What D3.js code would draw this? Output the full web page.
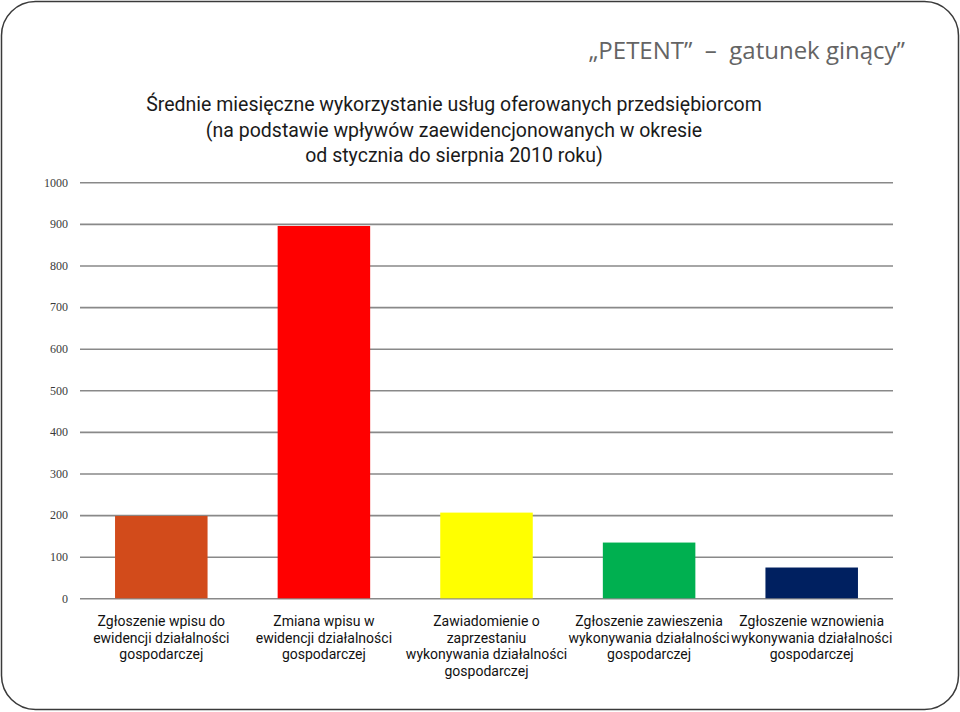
<!DOCTYPE html>
<html><head><meta charset="utf-8">
<script src="https://cdn.jsdelivr.net/npm/d3@7"></script>
<style>body{margin:0;background:#fff}</style>
</head><body>
<svg id="chart" width="960" height="712"></svg>
<script>
// ---- data ----
const categories = [
  ["Zgłoszenie wpisu do", "ewidencji działalności", "gospodarczej"],
  ["Zmiana wpisu w", "ewidencji działalności", "gospodarczej"],
  ["Zawiadomienie o", "zaprzestaniu", "wykonywania działalności", "gospodarczej"],
  ["Zgłoszenie zawieszenia", "wykonywania działalności", "gospodarczej"],
  ["Zgłoszenie wznowienia", "wykonywania działalności", "gospodarczej"]
];
const values = [198, 895, 206, 134, 74];
const barColors = ["#D24B1B", "#FF0000", "#FFFF00", "#00B050", "#002060"];
const yTicks = [0, 100, 200, 300, 400, 500, 600, 700, 800, 900, 1000];
const headerText = "„PETENT”  –  gatunek ginący”";
const titleLines = [
  "Średnie miesięczne wykorzystanie usług oferowanych przedsiębiorcom",
  "(na podstawie wpływów zaewidencjonowanych w okresie",
  "od stycznia do sierpnia 2010 roku)"
];

// ---- layout ----
const svg = d3.select("#chart");
const plot = {left: 80, right: 893, top: 182.3, bottom: 598.3};
const keys = categories.map(c => c.join(" "));

svg.append("rect")
  .attr("x", 1.5).attr("y", 1.5).attr("width", 957).attr("height", 708)
  .attr("rx", 34).attr("ry", 34)
  .attr("fill", "#fff").attr("stroke", "#3a3a3a").attr("stroke-width", 1.5);

const x = d3.scaleBand().domain(keys).range([plot.left, plot.right])
  .paddingInner(0.431).paddingOuter(0.2155);
const y = d3.scaleLinear().domain([0, 1000]).range([plot.bottom, plot.top]);

const yAxis = svg.append("g")
  .attr("transform", `translate(${plot.left},0)`)
  .call(d3.axisLeft(y).tickValues(yTicks).tickFormat(d3.format("d"))
    .tickSize(-(plot.right - plot.left)).tickPadding(12));
yAxis.attr("font-family", null).attr("font-size", null);
yAxis.select(".domain").remove();
yAxis.selectAll(".tick line").attr("stroke", "#898989").attr("stroke-width", 1.6);
yAxis.selectAll(".tick text")
  .style("font-family", "'Liberation Serif', 'DejaVu Serif', serif")
  .style("font-size", "12px").attr("fill", "#3a3a3a");

svg.append("g").selectAll("rect").data(values).join("rect")
  .attr("x", (d, i) => x(keys[i]))
  .attr("width", x.bandwidth())
  .attr("y", d => y(d))
  .attr("height", d => y(0) - y(d))
  .attr("fill", (d, i) => barColors[i]);

// category labels
const lab = svg.append("g")
  .style("font-family", "Roboto, 'Liberation Sans', sans-serif")
  .style("font-size", "14px").attr("fill", "#111").attr("text-anchor", "middle");
categories.forEach((lines, i) => {
  const cx = x(keys[i]) + x.bandwidth() / 2;
  const t = lab.append("text").attr("x", cx).attr("y", 626);
  lines.forEach((l, j) => t.append("tspan").attr("x", cx)
    .attr("dy", j === 0 ? 0 : 16.5).text(l));
});

// header
svg.append("text")
  .attr("x", 905).attr("y", 59).attr("text-anchor", "end")
  .style("font-family", "'Open Sans', sans-serif").style("font-size", "24px")
  .style("white-space", "pre")
  .attr("fill", "#646464").text(headerText);

// title
const tt = svg.append("text")
  .attr("text-anchor", "middle")
  .style("font-family", "Roboto, 'Liberation Sans', sans-serif")
  .style("font-size", "19.5px").attr("fill", "#1a1a1a");
titleLines.forEach((l, j) => tt.append("tspan").attr("x", 454).attr("y", 111 + j * 25.5).text(l));
</script>
</body></html>
